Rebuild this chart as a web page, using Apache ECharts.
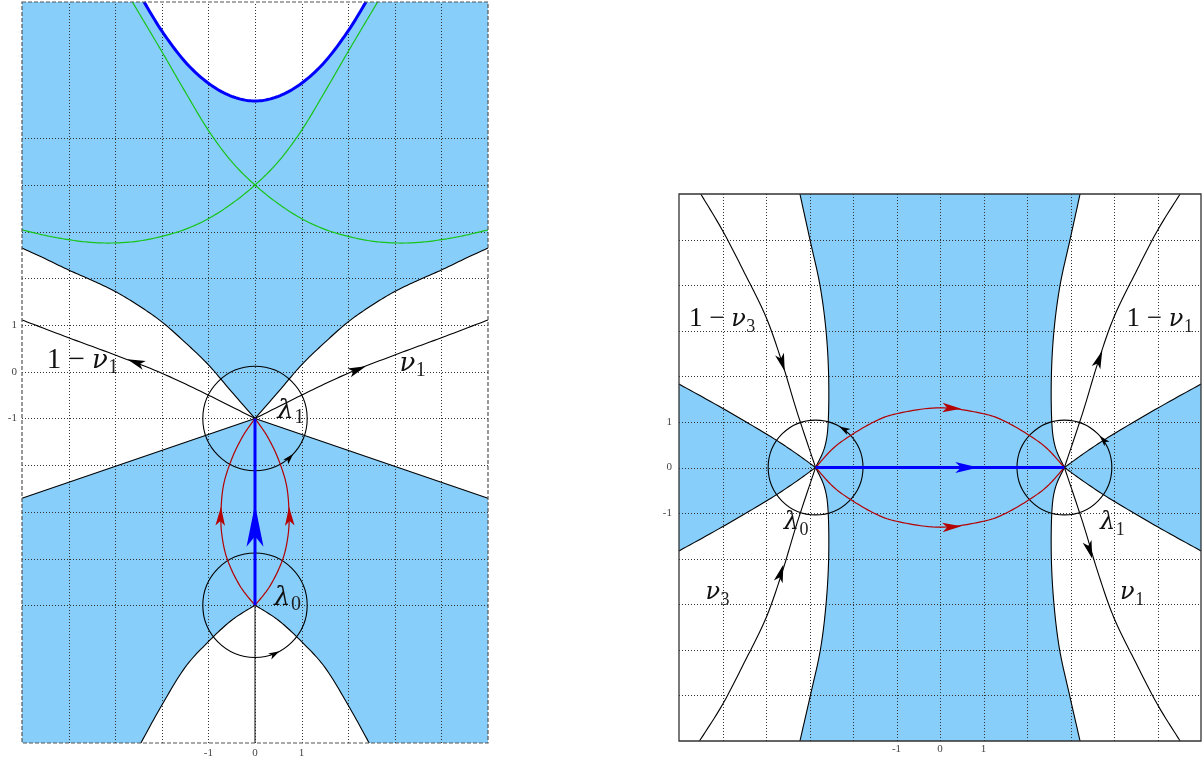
<!DOCTYPE html>
<html><head><meta charset="utf-8">
<script src="https://cdn.jsdelivr.net/npm/echarts@6/dist/echarts.min.js"></script>
<style>html,body{margin:0;padding:0;background:#fff}#c{width:1204px;height:762px}</style>
</head><body><div id="c"></div>
<script>
// ---------------- axis ranges / ticks ----------------
const lXRange = [-5, 5], lYRange = [-7.95, 7.92];
const rXRange = [-6, 6], rYRange = [-6, 6];
const tickValues = [-1, 0, 1];
const lGridXs = [-4, -3, -2, -1, 0, 1, 2, 3, 4];
const lGridYs = [-5, -4, -3, -2, -1, 0, 1, 2, 3, 4, 5];
const rGridXs = [-5, -4, -3, -2, -1, 0, 1, 2, 3, 4, 5];
const rGridYs = [-5, -4, -3, -2, -1, 0, 1, 2, 3, 4, 5];

// ---------------- left panel ----------------
const lLambda1 = [0, -1], lLambda0 = [0, -5];
const lCircleRadius = 1.12;
const lBlueTop = [[-2.38,7.92],[-2,7.3],[-1.5,6.64],[-1,6.18],[-0.5,5.9],[0,5.8],[0.5,5.9],[1,6.18],[1.5,6.64],[2,7.3],[2.38,7.92]];
const lGreenA = [[-2.63,7.92],[-2.5,7.7],[-2,6.86],[-1.5,6.0],[-1,5.17],[-0.5,4.5],[0,4.0],[0.5,3.6],[1,3.28],[1.5,3.05],[2,2.9],[2.5,2.8],[3,2.76],[3.5,2.77],[4,2.83],[4.5,2.92],[5,3.04]];
const lGreenB = [[2.63,7.92],[2.5,7.7],[2,6.86],[1.5,6.0],[1,5.17],[0.5,4.5],[0,4.0],[-0.5,3.6],[-1,3.28],[-1.5,3.05],[-2,2.9],[-2.5,2.8],[-3,2.76],[-3.5,2.77],[-4,2.83],[-4.5,2.92],[-5,3.04]];
const lUpperL = [[-5,2.65],[-4.5,2.42],[-4,2.18],[-3.5,1.96],[-3,1.72],[-2.5,1.42],[-2,1.07],[-1.5,0.63],[-1,0.15],[-0.5,-0.43],[0,-1]];
const lUpperR = [[0,-1],[0.5,-0.43],[1,0.15],[1.5,0.63],[2,1.07],[2.5,1.42],[3,1.72],[3.5,1.96],[4,2.18],[4.5,2.42],[5,2.65]];
const lLowerL = [[0,-1],[-5,-2.71]];
const lLowerR = [[5,-2.71],[0,-1]];
const lNuL = [[0,-1],[-1,-0.5],[-2,-0.03],[-3,0.36],[-4,0.73],[-5,1.11]];
const lNuR = [[0,-1],[1,-0.5],[2,-0.03],[3,0.36],[4,0.73],[5,1.11]];
const lBottomL = [[-2.45,-7.95],[-2,-7.14],[-1.5,-6.33],[-1,-5.78],[-0.5,-5.32],[0,-5]];
const lBottomR = [[0,-5],[0.5,-5.32],[1,-5.78],[1.5,-6.33],[2,-7.14],[2.45,-7.95]];
const lStem = [[0,-5],[0,-7.95]];
const lRedL = [[0,-5],[-0.32,-4.59],[-0.59,-4.03],[-0.71,-3.5],[-0.73,-3.0],[-0.67,-2.4],[-0.48,-1.82],[-0.25,-1.36],[0,-1]];
const lRedR = [[0,-5],[0.32,-4.59],[0.59,-4.03],[0.71,-3.5],[0.73,-3.0],[0.67,-2.4],[0.48,-1.82],[0.25,-1.36],[0,-1]];
const lBlueStem = [[0,-5],[0,-1]];
// arrows: tip x, tip y, direction x, direction y, kind
const lArrows = [[0,-2.85,0,1,'blueBig'],[-0.73,-2.89,0.04,1,'red'],[0.73,-2.89,-0.04,1,'red'],[-2.74,0.27,-1,0.37,'black'],[2.38,0.12,1,0.4,'black']];
// circle arrows: centre x, centre y, angle (deg)
const lCircleArrows = [[0,-1,-43],[0,-5,-62]];
const lLabels = [
  {x:-4.47, y:0.25, parts:[['1',0],[' − ',0],['ν',1]], sub:'1'},
  {x:3.1, y:0.19, parts:[['ν',1]], sub:'1'},
  {x:0.48, y:-0.82, parts:[['λ',1]], sub:'1'},
  {x:0.41, y:-4.82, parts:[['λ',1]], sub:'0'}
];

// ---------------- right panel ----------------
const rLambda0 = [-2.86, 0], rLambda1 = [2.86, 0];
const rCircleRadius = 1.09;
const rBandLTop = [[-3.22,6],[-2.99,5],[-2.76,4],[-2.62,3],[-2.56,2],[-2.57,1],[-2.65,0.45],[-2.86,0]];
const rBandLBot = [[-2.86,0],[-2.65,-0.45],[-2.57,-1],[-2.56,-2],[-2.62,-3],[-2.75,-4],[-2.98,-5],[-3.22,-6]];
const rBandRBot = [[3.22,-6],[2.98,-5],[2.75,-4],[2.62,-3],[2.56,-2],[2.57,-1],[2.65,-0.45],[2.86,0]];
const rBandRTop = [[2.86,0],[2.65,0.45],[2.57,1],[2.56,2],[2.62,3],[2.76,4],[2.99,5],[3.22,6]];
const rWedgeLUp = [[-6,1.83],[-5,1.3],[-4,0.74],[-3.4,0.37],[-2.86,0]];
const rWedgeLLow = [[-2.86,0],[-3.4,-0.37],[-4,-0.74],[-5,-1.3],[-6,-1.83]];
const rWedgeRLow = [[6,-1.83],[5,-1.3],[4,-0.74],[3.4,-0.37],[2.86,0]];
const rWedgeRUp = [[2.86,0],[3.4,0.37],[4,0.74],[5,1.3],[6,1.83]];
const rNu3Up = [[-5.5,6],[-5,5.2],[-4.5,4.28],[-4,3.3],[-3.63,2.3],[-3.28,1.2],[-2.86,0]];
const rNu3Down = [[-5.53,-6],[-5,-5.2],[-4.5,-4.28],[-4,-3.3],[-3.63,-2.3],[-3.28,-1.2],[-2.86,0]];
const rNu1Up = [[2.86,0],[3.28,1.2],[3.63,2.3],[4,3.3],[4.5,4.28],[5,5.2],[5.52,6]];
const rNu1Down = [[2.86,0],[3.28,-1.2],[3.63,-2.3],[4,-3.3],[4.5,-4.28],[5,-5.2],[5.52,-6]];
const rRedTop = [[-2.86,0],[-2.5,0.38],[-2.17,0.63],[-1.56,0.98],[-1,1.18],[0,1.31],[1,1.18],[1.56,0.98],[2.17,0.63],[2.5,0.38],[2.86,0]];
const rRedBot = [[-2.86,0],[-2.5,-0.38],[-2.17,-0.63],[-1.56,-0.98],[-1,-1.18],[0,-1.31],[1,-1.18],[1.56,-0.98],[2.17,-0.63],[2.5,-0.38],[2.86,0]];
const rBlueLine = [[-2.86,0],[2.86,0]];
const rArrows = [[0.88,0,1,0,'blue'],[0.49,1.29,1,-0.06,'red'],[0.49,-1.29,1,0.06,'red'],[-3.57,2.11,0.33,-1.1,'black'],[-3.6,-2.13,0.33,1.1,'black'],[3.73,2.56,0.37,1,'black'],[3.5,-2.0,0.33,-1.1,'black']];
const rCircleArrows = [[-2.86,0,60],[2.86,0,42]];
const rLabels = [
  {x:-5.77, y:3.26, parts:[['1',0],[' − ',0],['ν',1]], sub:'3'},
  {x:4.29, y:3.26, parts:[['1',0],[' − ',0],['ν',1]], sub:'1'},
  {x:-5.39, y:-2.73, parts:[['ν',1]], sub:'3'},
  {x:4.14, y:-2.73, parts:[['ν',1]], sub:'1'},
  {x:-3.59, y:-1.2, parts:[['λ',1]], sub:'0'},
  {x:3.68, y:-1.2, parts:[['λ',1]], sub:'1'}
];

// ---------------- styles ----------------
const BLUE_FILL = '#87cefa', BLUE = '#0000ff', RED = '#b40000', GREEN = '#19c419', BLACK = '#000';
const FONT = 'Liberation Serif', GREEK_FONT = 'DejaVu Serif';

// ---------------- helpers ----------------
const mctx = document.createElement('canvas').getContext('2d');
function tw(str, size, italic, fam) { mctx.font = (italic ? 'italic ' : '') + size + 'px "' + fam + '"'; return mctx.measureText(str).width; }
function spline(p, n) {
  n = n || 12;
  if (p.length < 3) return p.slice();
  const out = [p[0]];
  for (let i = 0; i < p.length - 1; i++) {
    const p0 = p[Math.max(i - 1, 0)], p1 = p[i], p2 = p[i + 1], p3 = p[Math.min(i + 2, p.length - 1)];
    for (let k = 1; k <= n; k++) {
      const t = k / n, t2 = t * t, t3 = t2 * t;
      const f = j => 0.5 * (2 * p1[j] + (-p0[j] + p2[j]) * t + (2 * p0[j] - 5 * p1[j] + 4 * p2[j] - p3[j]) * t2 + (-p0[j] + 3 * p1[j] - 3 * p2[j] + p3[j]) * t3);
      out.push([f(0), f(1)]);
    }
  }
  return out;
}
function cpx(api, pts) { return spline(pts.map(q => api.coord(q))); }
function pline(points, color, w, dash) { return {type:'polyline', shape:{points}, style:{stroke:color, lineWidth:w, fill:null, lineDash:dash || null}}; }
function pgon(points, fill) { return {type:'polygon', shape:{points}, style:{fill, stroke:null}}; }
function arrowPx(tip, dir, L, W, color) {
  const len = Math.hypot(dir[0], dir[1]); const d = [dir[0] / len, dir[1] / len]; const n = [-d[1], d[0]];
  const b = [tip[0] - L * d[0], tip[1] - L * d[1]];
  const notch = [tip[0] - 0.75 * L * d[0], tip[1] - 0.75 * L * d[1]];
  return pgon([tip, [b[0] + W * n[0], b[1] + W * n[1]], notch, [b[0] - W * n[0], b[1] - W * n[1]]], color);
}
const ARROW_KIND = {
  blueBig: [42, 8.5, BLUE], blue: [23, 5.5, BLUE], red: [19, 4.8, RED], black: [18, 4.6, BLACK]
};
function arrowEl(api, a) {
  const tip = api.coord([a[0], a[1]]);
  const k = ARROW_KIND[a[4]];
  return arrowPx(tip, [a[2], -a[3]], k[0], k[1], k[2]);
}
function circleEls(api, centre, rData, arrows) {
  const c = api.coord(centre); const r = api.size([rData, 0])[0];
  const els = [{type:'circle', shape:{cx:c[0], cy:c[1], r}, style:{stroke:BLACK, lineWidth:1.1, fill:null}}];
  arrows.filter(a => a[0] === centre[0] && a[1] === centre[1]).forEach(a => {
    const th = a[2] * Math.PI / 180;
    const tip = [c[0] + r * Math.cos(th), c[1] - r * Math.sin(th)];
    els.push(arrowPx(tip, [-Math.sin(th), -Math.cos(th)], 11, 3.4, BLACK));
  });
  return els;
}
function labelEls(api, lab, S) {
  const p = api.coord([lab.x, lab.y]); let x = p[0]; const els = [];
  lab.parts.forEach(([t, greek]) => {
    const fam = greek ? GREEK_FONT : FONT;
    const size = greek ? Math.round(S * 0.9) : S;
    els.push({type:'text', style:{text:t, x, y:p[1] + (greek ? 1 : 0), fill:'#111', fontSize:size, fontFamily:fam, fontStyle:greek ? 'italic' : 'normal', align:'left', verticalAlign:'middle'}});
    x += tw(t, size, greek, fam);
  });
  const s = Math.round(S * 0.68);
  els.push({type:'text', style:{text:lab.sub, x:x + 0.5, y:p[1] + 0.34 * (S - s) + 5, fill:'#222', fontSize:s, fontFamily:FONT, align:'left', verticalAlign:'middle'}});
  return els;
}
function gridEls(api, xs, ys, xr, yr) {
  const els = [];
  const snap = v => Math.round(v) + 0.5;
  xs.forEach(v => { const a = api.coord([v, yr[0]]), b = api.coord([v, yr[1]]); const x = snap(a[0]); els.push(pline([[x, a[1]], [x, b[1]]], '#333', 1, [1, 2])); });
  ys.forEach(v => { const a = api.coord([xr[0], v]), b = api.coord([xr[1], v]); const y = snap(a[1]); els.push(pline([[a[0], y], [b[0], y]], '#333', 1, [1, 2])); });
  return els;
}
function frameRect(api, xr, yr) {
  const tl = api.coord([xr[0], yr[1]]), br = api.coord([xr[1], yr[0]]);
  return {x:tl[0], y:tl[1], width:br[0] - tl[0], height:br[1] - tl[1]};
}

function renderLeft(params, api) {
  const ch = [];
  const fr = frameRect(api, lXRange, lYRange);
  ch.push({type:'rect', shape:fr, style:{fill:BLUE_FILL}});
  ch.push(pgon(cpx(api, lBlueTop), '#fff'));
  ch.push(pgon(cpx(api, lUpperL).concat(cpx(api, lLowerL)), '#fff'));
  ch.push(pgon(cpx(api, lLowerR).concat(cpx(api, lUpperR)), '#fff'));
  ch.push(pgon(cpx(api, lBottomL).concat(cpx(api, lBottomR)), '#fff'));
  gridEls(api, lGridXs, lGridYs, lXRange, lYRange).forEach(e => ch.push(e));
  ch.push(pline(cpx(api, lGreenA), GREEN, 1.2));
  ch.push(pline(cpx(api, lGreenB), GREEN, 1.2));
  [lUpperL, lUpperR, lLowerL, lLowerR, lNuL, lNuR, lBottomL, lBottomR].forEach(c => ch.push(pline(cpx(api, c), BLACK, 1.1)));
  ch.push(pline(cpx(api, lStem), '#222', 1.1));
  circleEls(api, lLambda1, lCircleRadius, lCircleArrows).forEach(e => ch.push(e));
  circleEls(api, lLambda0, lCircleRadius, lCircleArrows).forEach(e => ch.push(e));
  ch.push(pline(cpx(api, lRedL), RED, 1.2));
  ch.push(pline(cpx(api, lRedR), RED, 1.2));
  ch.push(pline(cpx(api, lBlueStem), BLUE, 3));
  ch.push(pline(cpx(api, lBlueTop), BLUE, 3));
  lArrows.forEach(a => ch.push(arrowEl(api, a)));
  lLabels.forEach(l => labelEls(api, l, 29).forEach(e => ch.push(e)));
  ch.push({type:'rect', shape:fr, style:{fill:null, stroke:'#555', lineWidth:1.2, lineDash:[4, 2]}});
  return {type:'group', children:ch};
}

function renderRight(params, api) {
  const ch = [];
  const fr = frameRect(api, rXRange, rYRange);
  ch.push({type:'rect', shape:fr, style:{fill:'#fff'}});
  ch.push(pgon(cpx(api, rBandLTop).concat(cpx(api, rBandLBot), cpx(api, rBandRBot), cpx(api, rBandRTop)), BLUE_FILL));
  ch.push(pgon(cpx(api, rWedgeLUp).concat(cpx(api, rWedgeLLow)), BLUE_FILL));
  ch.push(pgon(cpx(api, rWedgeRLow).concat(cpx(api, rWedgeRUp)), BLUE_FILL));
  gridEls(api, rGridXs, rGridYs, rXRange, rYRange).forEach(e => ch.push(e));
  [rBandLTop, rBandLBot, rBandRBot, rBandRTop, rWedgeLUp, rWedgeLLow, rWedgeRLow, rWedgeRUp, rNu3Up, rNu3Down, rNu1Up, rNu1Down].forEach(c => ch.push(pline(cpx(api, c), BLACK, 1.1)));
  circleEls(api, rLambda0, rCircleRadius, rCircleArrows).forEach(e => ch.push(e));
  circleEls(api, rLambda1, rCircleRadius, rCircleArrows).forEach(e => ch.push(e));
  ch.push(pline(cpx(api, rRedTop), RED, 1.2));
  ch.push(pline(cpx(api, rRedBot), RED, 1.2));
  ch.push(pline(cpx(api, rBlueLine), BLUE, 3));
  rArrows.forEach(a => ch.push(arrowEl(api, a)));
  rLabels.forEach(l => labelEls(api, l, 27).forEach(e => ch.push(e)));
  ch.push({type:'rect', shape:fr, style:{fill:null, stroke:'#333', lineWidth:1.3}});
  return {type:'group', children:ch};
}

function axis(gridIndex, range, margin) {
  return {type:'value', gridIndex, min:range[0], max:range[1],
    axisLine:{show:false}, axisTick:{show:false}, splitLine:{show:false},
    axisLabel:{customValues:tickValues, fontFamily:FONT, fontSize:11, color:'#444', margin}};
}

const chart = echarts.init(document.getElementById('c'));
chart.setOption({
  animation:false,
  grid:[{left:22, top:2, width:466, height:741}, {left:679, top:194, width:522, height:547}],
  xAxis:[axis(0, lXRange, 5), axis(1, rXRange, 3)],
  yAxis:[axis(0, lYRange, 5), axis(1, rYRange, 7)],
  series:[
    {type:'custom', coordinateSystem:'cartesian2d', xAxisIndex:0, yAxisIndex:0, data:[[0,0]], renderItem:renderLeft, silent:true},
    {type:'custom', coordinateSystem:'cartesian2d', xAxisIndex:1, yAxisIndex:1, data:[[0,0]], renderItem:renderRight, silent:true}
  ]
});
</script></body></html>
